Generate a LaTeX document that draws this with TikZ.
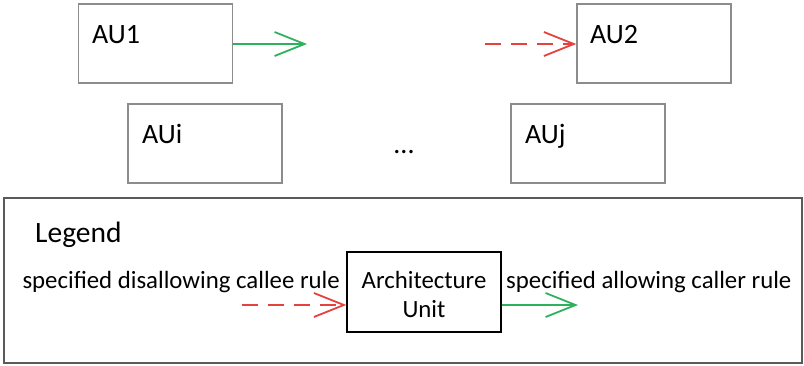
\documentclass[tikz,border=0pt]{standalone}
\usepackage{fontspec}
\setmainfont{Carlito}
\usetikzlibrary{arrows.meta}
\definecolor{allowgreen}{HTML}{2DB15C}
\definecolor{denyred}{HTML}{E5423D}
\definecolor{boxgray}{HTML}{8C8C8C}
\definecolor{framegray}{HTML}{5A5A5A}
\tikzset{
  unitbox/.style={draw=boxgray, line width=1.4pt, rectangle, inner sep=0pt,
    minimum width=154pt, minimum height=79pt},
  unitlabel/.style={anchor=base west, inner sep=0pt, font=\fontsize{28}{30}\selectfont},
  legendtext/.style={inner sep=0pt, font=\fontsize{24.8}{29}\selectfont},
  tipV/.style={-{Straight Barb[length=30pt,width=24pt,line width=1.8pt]}},
  allowarrow/.style={draw=allowgreen, line width=1.8pt, tipV},
  denyarrow/.style={draw=denyred, line width=1.8pt, dash pattern=on 16pt off 10pt, tipV}
}
\begin{document}
\begin{tikzpicture}[x=1pt,y=-1pt]
  \useasboundingbox (0,0) rectangle (804,365);

  % architecture units
  \node[unitbox] (au1) at (155.5,43.5) {};
  \node[unitbox] (au2) at (654,43.5) {};
  \node[unitbox] (aui) at (205,143.5) {};
  \node[unitbox] (auj) at (588,143.5) {};
  \node[unitlabel] (au1l) at (92,43) {AU1};
  \node[unitlabel] (au2l) at (590,43) {AU2};
  \node[unitlabel] (auil) at (142,143) {AUi};
  \node[unitlabel] (aujl) at (525,143) {AUj};
  \node[anchor=base, inner sep=0pt, font=\fontsize{28}{30}\selectfont] (dots) at (404,153) {...};

  % rules between units
  \coordinate (au1out) at (307,44);
  \coordinate (au2in) at (485,44);
  \draw[allowarrow] (au1.east |- au1out) -- (au1out);
  \draw[denyarrow] (au2in) -- (au2.west |- au2in);

  % legend
  \node[draw=framegray, line width=1.8pt, rectangle, inner sep=0pt,
        minimum width=798pt, minimum height=165pt] (legend) at (403,280.5) {};
  \node[anchor=base west, inner sep=0pt, font=\fontsize{29.5}{32}\selectfont] (legendtitle) at (35,242) {Legend};
  \node[draw=black, line width=1.4pt, rectangle, inner sep=0pt,
        minimum width=154pt, minimum height=80pt] (arch) at (424,292) {};
  \node[legendtext, anchor=base] (archl1) at (424,288) {Architecture};
  \node[legendtext, anchor=base] (archl2) at (424,317) {Unit};
  \node[legendtext, anchor=base east] (denytext) at (340,288) {specified disallowing callee rule};
  \node[legendtext, anchor=base west] (allowtext) at (506,288) {specified allowing caller rule};
  \coordinate (denystart) at (242,305);
  \coordinate (allowend) at (578,305);
  \draw[denyarrow] (denystart) -- (arch.west |- denystart);
  \draw[allowarrow] (arch.east |- allowend) -- (allowend);
\end{tikzpicture}
\end{document}
